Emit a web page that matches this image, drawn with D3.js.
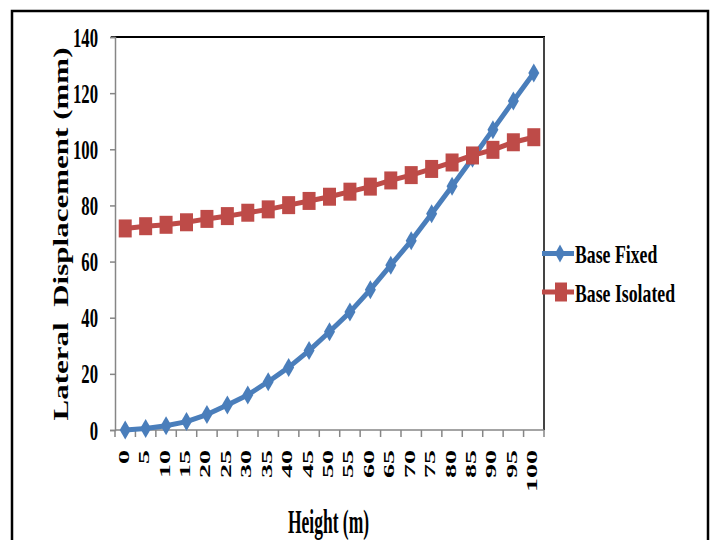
<!DOCTYPE html>
<html>
<head>
<meta charset="utf-8">
<script src="https://cdn.jsdelivr.net/npm/d3@7"></script>
<style>
  html, body { margin: 0; padding: 0; background: #fff; }
  svg { display: block; }
  text { font-family: "Liberation Serif", "Times New Roman", serif; font-weight: bold; fill: #000; }
</style>
</head>
<body>
<svg id="chart" width="710" height="540"></svg>
<script>
// ---- data ----
const categories = [0, 5, 10, 15, 20, 25, 30, 35, 40, 45, 50, 55, 60, 65, 70, 75, 80, 85, 90, 95, 100];
const baseFixed = [0, 0.5, 1.5, 3, 5.5, 8.9, 12.5, 17.2, 22.3, 28.3, 35, 42, 50, 58.7, 67.4, 77, 86.8, 96.8, 107, 117.2, 127.2];
const baseIsolated = [71.8, 72.6, 73.1, 74, 75.2, 76.2, 77.4, 78.6, 80.1, 81.6, 83.1, 84.9, 86.7, 88.9, 90.8, 93, 95.3, 97.8, 99.8, 102.5, 104.3];
const yTicks = [0, 20, 40, 60, 80, 100, 120, 140];
const seriesNames = ["Base Fixed", "Base Isolated"];
const seriesColors = ["#4A7EBB", "#BE4B48"];
const xTitle = "Height (m)";
const yTitle = "Lateral  Displacement (mm)";

// ---- layout ----
const svg = d3.select("#chart");
const L = 115, R = 544, T = 37, B = 430;

const x = d3.scaleBand().domain(categories).range([L, R]).padding(0);
const y = d3.scaleLinear().domain([0, 140]).range([B, T]);
const cx = d => x(d) + x.bandwidth() / 2;

// outer frame
svg.append("rect").attr("x", 12).attr("y", 11).attr("width", 696).attr("height", 600)
  .attr("fill", "none").attr("stroke", "#000").attr("stroke-width", 2.5);

// plot area border (top & right)
svg.append("line").attr("x1", L - 4).attr("x2", R + 1).attr("y1", y(140)).attr("y2", y(140))
  .attr("stroke", "#000").attr("stroke-width", 2);
svg.append("line").attr("x1", R).attr("x2", R).attr("y1", y(140)).attr("y2", B)
  .attr("stroke", "#444").attr("stroke-width", 2);

// y axis
const yAxis = svg.append("g").attr("transform", `translate(${L},0)`)
  .call(d3.axisLeft(y).tickValues(yTicks).tickSize(5).tickFormat(d3.format("d")));
yAxis.select(".domain").attr("stroke", "#868686").attr("stroke-width", 1.5);
yAxis.selectAll(".tick line").attr("stroke", "#868686").attr("stroke-width", 1.5);
yAxis.selectAll(".tick text")
  .attr("x", null).attr("dy", "0.34em")
  .attr("transform", "translate(-17,0) scale(0.63,1)")
  .attr("text-anchor", "end")
  .style("font-size", "26.5px")
  .style("font-family", "'Liberation Serif', serif").style("font-weight", "bold");

// x axis line
svg.append("line").attr("x1", L).attr("x2", R).attr("y1", B).attr("y2", B)
  .attr("stroke", "#868686").attr("stroke-width", 1.5);
svg.append("line").attr("x1", L).attr("x2", L).attr("y1", B).attr("y2", B + 7)
  .attr("stroke", "#868686").attr("stroke-width", 1.5);
// x ticks at category boundaries
svg.append("g").selectAll("line").data(categories).join("line")
  .attr("x1", d => x(d) + x.bandwidth()).attr("x2", d => x(d) + x.bandwidth())
  .attr("y1", B).attr("y2", B + 7)
  .attr("stroke", "#868686").attr("stroke-width", 1.5);

// x tick labels (rotated)
svg.append("g").selectAll("text").data(categories).join("text")
  .attr("transform", d => `translate(${cx(d) - 1.5},450) scale(0.52,1) rotate(-90)`)
  .attr("text-anchor", "end").attr("dy", "0.34em")
  .style("font-size", "28px")
  .text(d => d);

// axis titles
svg.append("text")
  .attr("transform", `translate(${(L + R) / 2 - 1},533) scale(0.53,1)`)
  .attr("text-anchor", "middle")
  .style("font-size", "33px")
  .text(xTitle);

svg.append("text")
  .attr("transform", "translate(68,234) scale(0.7,1) rotate(-90)")
  .attr("text-anchor", "middle")
  .attr("textLength", 373).attr("lengthAdjust", "spacingAndGlyphs")
  .style("font-size", "31px")
  .style("white-space", "pre")
  .text(yTitle);

// ---- series ----
const line = d3.line().x((d, i) => cx(categories[i])).y(d => y(d));
const diamond = (w, h) => `M0,${-h / 2}L${w / 2},0L0,${h / 2}L${-w / 2},0Z`;
const square = (w, h) => `M${-w / 2},${-h / 2}h${w}v${h}h${-w}Z`;

function drawSeries(values, color, marker) {
  const g = svg.append("g");
  g.append("path").datum(values).attr("d", line)
    .attr("fill", "none").attr("stroke", color).attr("stroke-width", 5)
    .attr("stroke-linejoin", "round");
  g.selectAll("path.m").data(values).join("path").attr("class", "m")
    .attr("transform", (d, i) => `translate(${cx(categories[i])},${y(d)})`)
    .attr("d", marker).attr("fill", color);
}
drawSeries(baseFixed, seriesColors[0], diamond(11, 19));
drawSeries(baseIsolated, seriesColors[1], square(13, 18));

// ---- legend ----
const legendRows = [
  { name: seriesNames[0], color: seriesColors[0], marker: diamond(10, 18), yc: 253.5 },
  { name: seriesNames[1], color: seriesColors[1], marker: square(12, 19), yc: 292 }
];
const lg = svg.append("g");
legendRows.forEach((r, i) => {
  lg.append("line").attr("x1", 542).attr("x2", 574).attr("y1", r.yc).attr("y2", r.yc)
    .attr("stroke", r.color).attr("stroke-width", 5);
  lg.append("path").attr("transform", `translate(${i === 0 ? 560 : 561},${r.yc})`)
    .attr("d", r.marker).attr("fill", r.color);
  lg.append("text")
    .attr("transform", `translate(575,${r.yc + 9.5}) scale(0.71,1)`)
    .style("font-size", "25px")
    .text(r.name);
});
</script>
</body>
</html>
